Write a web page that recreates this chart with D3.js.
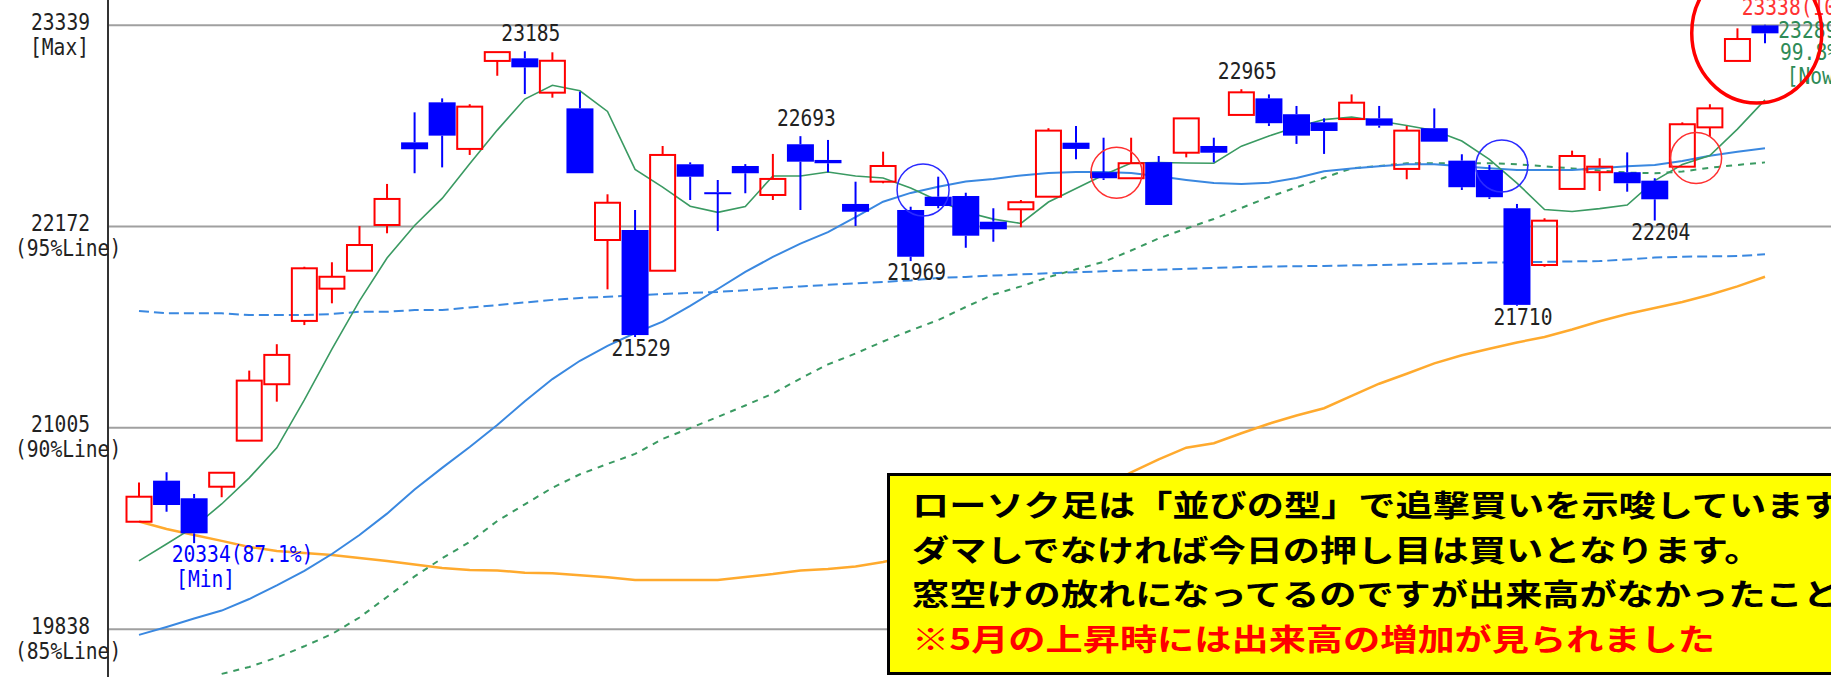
<!DOCTYPE html>
<html>
<head>
<meta charset="utf-8">
<script src="https://cdn.jsdelivr.net/npm/d3@7"></script>
<style>
  html, body { margin: 0; padding: 0; background: #fff; overflow: hidden; }
  svg { display: block; }
  .lbl { font-family: "DejaVu Sans Mono", monospace; font-size: 23px; }
  .memo { font-family: "Noto Sans CJK JP", sans-serif; font-weight: bold; font-size: 30px; }
</style>
</head>
<body>
<svg id="chart"></svg>
<script>
'use strict';

const opens = [20458, 20696, 20594, 20661, 20928, 21255, 21622, 21809, 21913, 22178,
  22657, 22889, 22619, 23129, 23144, 22945, 22854, 22091, 22149, 21913,
  22530, 22368, 22520, 22352, 22646, 22555, 22300, 22429, 22265, 22342,
  22346, 22197, 22269, 22342, 22655, 22484, 22449, 22542, 22597, 22636,
  22816, 22912, 22820, 22773, 22792, 22796, 22503, 22739, 22551, 22497,
  22275, 21946, 22387, 22484, 22484, 22435, 22516, 22744, 23129, 23335];

const highs = [20686, 20745, 20619, 20742, 21334, 21487, 21936, 21962, 22172, 22416,
  22831, 22912, 22878, 23180, 23185, 23179, 22951, 22356, 22265, 22636,
  22541, 22439, 22531, 22590, 22693, 22671, 22429, 22603, 22284, 22458,
  22365, 22275, 22323, 22739, 22752, 22684, 22684, 22578, 22796, 22684,
  22965, 22935, 22868, 22796, 22935, 22868, 22752, 22854, 22588, 22526,
  22300, 22217, 22609, 22565, 22599, 22449, 22773, 22878, 23318, 23338];

const lows = [20458, 20516, 20334, 20600, 20928, 21154, 21598, 21724, 21913, 22130,
  22478, 22512, 22584, 23043, 22937, 22916, 22478, 21805, 21529, 21913,
  22323, 22143, 22362, 22323, 22265, 22484, 22172, 22420, 21969, 22275,
  22046, 22081, 22165, 22342, 22559, 22439, 22449, 22294, 22570, 22541,
  22816, 22752, 22648, 22590, 22792, 22742, 22443, 22661, 22381, 22329,
  21710, 21936, 22387, 22375, 22371, 22204, 22516, 22690, 23129, 23231];

const closes = [20603, 20555, 20391, 20742, 21276, 21425, 21927, 21878, 22062, 22329,
  22617, 22696, 22864, 23180, 23092, 23130, 22478, 22307, 21540, 22584,
  22458, 22362, 22478, 22445, 22545, 22536, 22255, 22520, 21994, 22288,
  22116, 22153, 22310, 22725, 22619, 22449, 22536, 22294, 22796, 22597,
  22947, 22768, 22696, 22723, 22887, 22754, 22725, 22661, 22397, 22339,
  21715, 22203, 22578, 22516, 22420, 22327, 22762, 22854, 23256, 23289];

// moving averages
const maShort = [20231, 20329, 20428, 20561, 20712, 20886, 21164, 21459, 21738, 21987,
  22175, 22332, 22533, 22728, 22908, 22988, 22956, 22836, 22500, 22398,
  22287, 22251, 22285, 22462, 22462, 22485, 22462, 22450, 22392, 22318,
  22253, 22212, 22187, 22311, 22390, 22468, 22537, 22540, 22537, 22536,
  22635, 22694, 22746, 22789, 22804, 22781, 22755, 22726, 22665, 22558,
  22421, 22268, 22256, 22273, 22294, 22435, 22529, 22581, 22734, 22903];

const maMid = [19802, 19848, 19897, 19943, 20010, 20089, 20173, 20271, 20381, 20505,
  20645, 20770, 20891, 21019, 21156, 21285, 21391, 21477, 21552, 21618,
  21709, 21807, 21906, 21993, 22070, 22137, 22224, 22313, 22364, 22400,
  22430, 22445, 22465, 22479, 22485, 22485, 22479, 22460, 22439, 22421,
  22416, 22423, 22450, 22489, 22506, 22518, 22530, 22530, 22519, 22507,
  22497, 22497, 22497, 22507, 22518, 22526, 22549, 22580, 22603, 22623];

const maLong = [null, null, null, 19576, 19616, 19671, 19736, 19807, 19903, 20022,
  20141, 20246, 20341, 20462, 20559, 20655, 20733, 20793, 20851, 20938,
  21001, 21065, 21132, 21201, 21288, 21370, 21433, 21503, 21567, 21627,
  21703, 21775, 21822, 21876, 21921, 21964, 22030, 22100, 22158, 22213,
  22277, 22340, 22396, 22452, 22506, 22520, 22536, 22536, 22536, 22536,
  22530, 22518, 22506, 22494, 22482, 22478, 22488, 22510, 22526, 22541];

const maBlueDash = [21680, 21666, 21666, 21666, 21656, 21656, 21656, 21662, 21675, 21675,
  21685, 21685, 21700, 21714, 21729, 21744, 21755, 21762, 21771, 21778,
  21784, 21790, 21800, 21811, 21822, 21831, 21839, 21848, 21857, 21871,
  21877, 21885, 21892, 21898, 21904, 21910, 21915, 21919, 21924, 21929,
  21934, 21937, 21939, 21941, 21944, 21946, 21949, 21953, 21956, 21960,
  21962, 21964, 21967, 21969, 21978, 21989, 21994, 21996, 21998, 22008];

const maOrange = [20459, 20416, 20381, 20347, 20312, 20289, 20277, 20265, 20248, 20231,
  20210, 20190, 20178, 20175, 20163, 20159, 20148, 20136, 20120, 20120,
  20120, 20120, 20138, 20155, 20176, 20184, 20199, 20225, 20260, 20300,
  20347, 20399, 20457, 20520, 20584, 20659, 20744, 20819, 20887, 20913,
  20971, 21026, 21074, 21116, 21188, 21258, 21316, 21376, 21423, 21461,
  21497, 21529, 21572, 21620, 21662, 21697, 21732, 21774, 21822, 21878];

const gridValues = [23339, 22172, 21005, 19838];
const gridNotes = ['[Max]', '(95%Line)', '(90%Line)', '(85%Line)'];

const peakIdx = [14, 24, 40];
const troughIdx = [18, 28, 50, 55];
const minIdx = 2;

// hand-drawn rings: [day position, price]
const blueRings = [[28.45, 22381], [49.45, 22520]];
const redRings = [[35.47, 22481], [56.5, 22566]];
const bigRing = [58.7, 23291];

const memoLines = [
  'ローソク足は「並びの型」で追撃買いを示唆しています',
  'ダマしでなければ今日の押し目は買いとなります。',
  '窓空けの放れになってるのですが出来高がなかったこと',
  '※5月の上昇時には出来高の増加が見られました'
];

const W = 1831, H = 677, AX = 108;
const RED = '#ff0000', BLUE = '#0000ff', GREEN = '#3a9a62', SKY = '#3a88e0', ORANGE = '#ffaa2e';
const CH = 11.8;

const svg = d3.select('#chart')
  .attr('width', W)
  .attr('height', H);

svg.append('rect')
  .attr('width', W)
  .attr('height', H)
  .attr('fill', '#fff');

const x = d3.scaleLinear()
  .domain([0, closes.length - 1])
  .range([139, 1765]);

const y = d3.scaleLinear()
  .domain([gridValues[3], gridValues[0]])
  .range([628.7, 24.7]);

function label(parent, str, px, py, color, anchor) {
  return parent.append('text')
    .attr('class', 'lbl')
    .attr('x', px)
    .attr('y', py)
    .attr('fill', color || '#222')
    .attr('text-anchor', anchor || 'start')
    .attr('textLength', str.length * CH)
    .attr('lengthAdjust', 'spacingAndGlyphs')
    .text(str);
}

// grid
svg.append('g')
  .attr('transform', 'translate(' + AX + ',0)')
  .call(d3.axisRight(y).tickValues(gridValues).tickSize(W - AX).tickFormat(''))
  .call(g => g.select('.domain').remove())
  .selectAll('line')
    .attr('stroke', '#a0a0a0')
    .attr('stroke-width', 2);

svg.append('line')
  .attr('x1', AX).attr('x2', AX)
  .attr('y1', 0).attr('y2', H)
  .attr('stroke', '#333')
  .attr('stroke-width', 2);

// moving averages
const series = [
  {values: maOrange, color: ORANGE, width: 2.5, dash: null},
  {values: maBlueDash, color: SKY, width: 2, dash: '10,5'},
  {values: maLong, color: GREEN, width: 2, dash: '6,6'},
  {values: maMid, color: SKY, width: 2, dash: null},
  {values: maShort, color: GREEN, width: 1.6, dash: null}
];

const line = d3.line()
  .defined(d => d != null)
  .x((d, i) => x(i))
  .y(d => y(d));

svg.append('g')
  .selectAll('path')
  .data(series)
  .join('path')
    .attr('d', d => line(d.values))
    .attr('fill', 'none')
    .attr('stroke', d => d.color)
    .attr('stroke-width', d => d.width)
    .attr('stroke-dasharray', d => d.dash);

// candles
const candles = closes.map((c, i) => ({
  i, o: opens[i], h: highs[i], l: lows[i], c,
  up: c >= opens[i]
}));

const cg = svg.append('g')
  .selectAll('g')
  .data(candles)
  .join('g')
    .attr('transform', d => 'translate(' + x(d.i) + ',0)');

cg.append('line')
  .attr('y1', d => y(d.h))
  .attr('y2', d => y(Math.max(d.o, d.c)))
  .attr('stroke', d => d.up ? RED : BLUE)
  .attr('stroke-width', 2);

cg.append('line')
  .attr('y1', d => y(Math.min(d.o, d.c)))
  .attr('y2', d => y(d.l))
  .attr('stroke', d => d.up ? RED : BLUE)
  .attr('stroke-width', 2);

cg.append('rect')
  .attr('x', d => d.up ? -12.5 : -13.5)
  .attr('width', d => d.up ? 25 : 27)
  .attr('y', d => y(Math.max(d.o, d.c)))
  .attr('height', d => Math.max(2, y(Math.min(d.o, d.c)) - y(Math.max(d.o, d.c))))
  .attr('fill', d => d.up ? 'none' : BLUE)
  .attr('stroke', d => d.up ? RED : 'none')
  .attr('stroke-width', 2);

// axis labels
const labels = svg.append('g');

gridValues.forEach((v, k) => {
  label(labels, String(v), 90, y(v) + 5, '#222', 'end');
  label(labels, gridNotes[k], k === 0 ? 30 : 15, y(v) + 30);
});

peakIdx.forEach(i => label(labels, String(highs[i]), x(i) + 6, y(highs[i]) - 10, '#222', 'middle'));
troughIdx.forEach(i => label(labels, String(lows[i]), x(i) + 6, y(lows[i]) + 19, '#222', 'middle'));

const minPct = (lows[minIdx] / gridValues[0] * 100).toFixed(1);
label(labels, lows[minIdx] + '(' + minPct + '%)', x(minIdx) - 22.4, y(lows[minIdx]) + 19, BLUE);
label(labels, '[Min]', x(minIdx) - 18, y(lows[minIdx]) + 43.5, BLUE);

const last = closes.length - 1;
const nowPct = (closes[last] / gridValues[0] * 100).toFixed(1);
label(labels, highs[last] + '(100.0%)', 1741.7, 15, '#ff3333');
label(labels, String(closes[last]), 1778.3, 38.3, '#2e8b57');
label(labels, nowPct + '%', 1780, 60, '#2e8b57');
label(labels, '[Now]', 1786.7, 84, '#2e8b57');

// rings
const rings = svg.append('g').attr('fill', 'none');

rings.selectAll('circle.blue')
  .data(blueRings)
  .join('circle')
    .attr('class', 'blue')
    .attr('cx', d => x(d[0]))
    .attr('cy', d => y(d[1]))
    .attr('r', 26)
    .attr('stroke', '#2a2aff')
    .attr('stroke-width', 1.5);

rings.selectAll('circle.red')
  .data(redRings)
  .join('circle')
    .attr('class', 'red')
    .attr('cx', d => x(d[0]))
    .attr('cy', d => y(d[1]))
    .attr('r', 25.5)
    .attr('stroke', '#ff3030')
    .attr('stroke-width', 1.5);

rings.append('ellipse')
  .attr('cx', x(bigRing[0]))
  .attr('cy', y(bigRing[1]))
  .attr('rx', 65)
  .attr('ry', 70)
  .attr('stroke', RED)
  .attr('stroke-width', 3.5);

// memo box
const memo = svg.append('g');

memo.append('rect')
  .attr('x', 888.5)
  .attr('y', 474.5)
  .attr('width', 1000)
  .attr('height', 199)
  .attr('fill', '#ffff00')
  .attr('stroke', '#000')
  .attr('stroke-width', 3);

memo.selectAll('text')
  .data(memoLines)
  .join('text')
    .attr('class', 'memo')
    .attr('transform', (d, k) => 'translate(912,' + (516.4 + k * 44.5) + ') scale(1.24,1)')
    .attr('fill', (d, k) => k === 3 ? RED : '#000')
    .text(d => d);
</script>
</body>
</html>
